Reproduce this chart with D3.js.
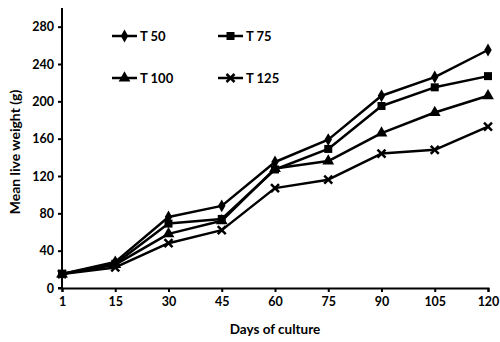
<!DOCTYPE html>
<html>
<head>
<meta charset="utf-8">
<script src="https://cdn.jsdelivr.net/npm/d3@7"></script>
<style>
  body { margin: 0; background: #fff; }
  text { font-family: Lato, "Open Sans", sans-serif; font-weight: bold; fill: #000; }
</style>
</head>
<body>
<script>
// Datos
const dias = ["1", "15", "30", "45", "60", "75", "90", "105", "120"];
const t50 = [15, 28, 76, 88, 135, 159, 206, 226, 255];
const t75 = [15, 26, 69, 74, 127, 149, 195, 215, 227];
const t100 = [15, 25, 58, 72, 128, 136, 166, 188, 206];
const t125 = [15, 22, 48, 62, 107, 116, 144, 148, 173];
const ticksY = [0, 40, 80, 120, 160, 200, 240, 280];

const series = [
  { nombre: "T 50", valores: t50, marca: d3.symbolDiamond, tam: 48 },
  { nombre: "T 75", valores: t75, marca: d3.symbolSquare, tam: 64 },
  { nombre: "T 100", valores: t100, marca: d3.symbolTriangle, tam: 60 },
  { nombre: "T 125", valores: t125, marca: "x", tam: 4 },
];

const WIDTH = 500;
const HEIGHT = 342;
const MARGIN = { top: 8, bottom: 54, left: 62, right: 12 };

const svg = d3.select("body").append("svg")
  .attr("width", WIDTH)
  .attr("height", HEIGHT);

const escalaX = d3.scalePoint()
  .domain(dias)
  .range([MARGIN.left, WIDTH - MARGIN.right]);

const escalaY = d3.scaleLinear()
  .domain([0, 300])
  .range([HEIGHT - MARGIN.bottom, MARGIN.top]);

// Ejes
const ejeY = svg.append("g")
  .attr("transform", `translate(${MARGIN.left},0)`)
  .call(d3.axisLeft(escalaY).tickValues(ticksY).tickSize(4).tickPadding(4));

const ejeX = svg.append("g")
  .attr("transform", `translate(0,${HEIGHT - MARGIN.bottom})`)
  .call(d3.axisBottom(escalaX).tickSize(4).tickPadding(5));

[ejeY, ejeX].forEach(eje => {
  eje.select(".domain").attr("stroke", "#000").attr("stroke-width", 2);
  eje.selectAll("line").attr("stroke", "#000").attr("stroke-width", 2);
  eje.selectAll("text").attr("font-size", 12.5).attr("font-family", "Lato, sans-serif").attr("font-weight", "bold");
});
ejeY.select(".domain").attr("d", `M-4,${escalaY(0)}H0V${escalaY(300)}`);

// Títulos de ejes
svg.append("text")
  .attr("transform", `translate(20,${(escalaY(0) + escalaY(300)) / 2 + 4}) rotate(-90)`)
  .attr("text-anchor", "middle")
  .attr("font-size", 14)
  .text("Mean live weight (g)");

svg.append("text")
  .attr("x", (escalaX("1") + escalaX("120")) / 2)
  .attr("y", 334)
  .attr("text-anchor", "middle")
  .attr("font-size", 13.5)
  .text("Days of culture");

// Dibuja un marcador
function marcador(g, s) {
  if (s.marca === "x") {
    const r = s.tam;
    g.append("path")
      .attr("d", `M${-r},${-r}L${r},${r}M${-r},${r}L${r},${-r}`)
      .attr("stroke", "#000")
      .attr("stroke-width", 2.5)
      .attr("fill", "none");
  } else {
    g.append("path")
      .attr("d", d3.symbol().type(s.marca).size(s.tam)())
      .attr("fill", "#000");
  }
}

const linea = d3.line()
  .x((d, i) => escalaX(dias[i]))
  .y(d => escalaY(d));

const contenedorVis = svg.append("g");

series.forEach(s => {
  contenedorVis.append("path")
    .attr("d", linea(s.valores))
    .attr("fill", "none")
    .attr("stroke", "#000")
    .attr("stroke-width", 2.5)
    .attr("stroke-linejoin", "round");

  s.valores.forEach((v, i) => {
    const g = contenedorVis.append("g")
      .attr("transform", `translate(${escalaX(dias[i])},${escalaY(v)})`);
    marcador(g, s);
  });
});

// Leyenda
const posLeyenda = [[112, 36], [218, 36], [112, 78], [218, 78]];
series.forEach((s, i) => {
  const [x, y] = posLeyenda[i];
  const g = svg.append("g").attr("transform", `translate(${x},${y})`);
  g.append("line")
    .attr("x1", 0).attr("x2", 25)
    .attr("stroke", "#000").attr("stroke-width", 2.5);
  const m = g.append("g").attr("transform", "translate(12.5,0)");
  marcador(m, s);
  g.append("text")
    .attr("x", 28)
    .attr("y", 4.5)
    .attr("font-size", 13)
    .text(s.nombre);
});
</script>
</body>
</html>
